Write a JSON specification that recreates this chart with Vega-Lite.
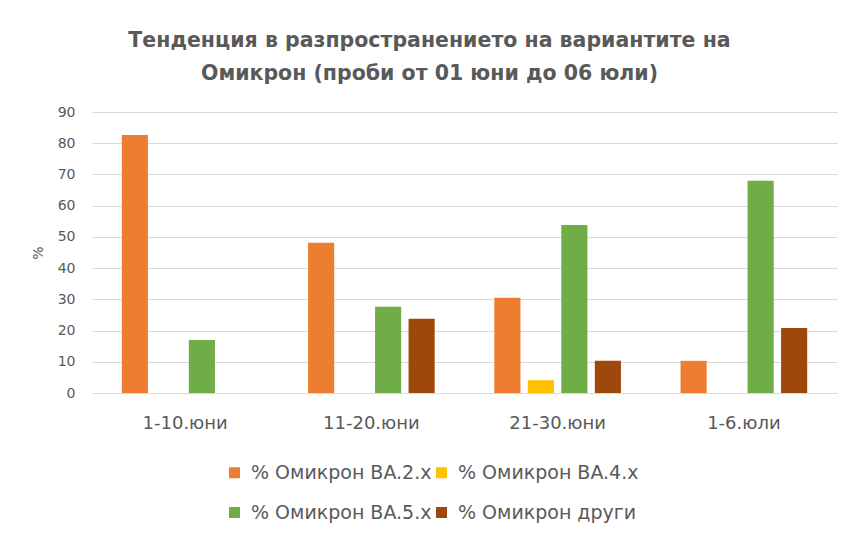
{
  "$schema": "https://vega.github.io/schema/vega-lite/v6.json",
  "autosize": {"type": "none"},
  "width": 745,
  "height": 281,
  "padding": {"left": 92, "top": 112, "right": 26, "bottom": 151},
  "background": "white",
  "title": {
    "text": ["Тенденция в разпространението на вариантите на", "Омикрон (проби от 01 юни до 06 юли)"],
    "font": "DejaVu Sans",
    "fontSize": 20.5,
    "fontWeight": "bold",
    "color": "#595959",
    "lineHeight": 33,
    "anchor": "middle",
    "dx": -35,
    "offset": 21
  },
  "data": {
    "values": [
      {"period": "1-10.юни", "variant": "% Омикрон BA.2.x", "value": 82.6},
      {"period": "1-10.юни", "variant": "% Омикрон BA.5.x", "value": 17.0},
      {"period": "11-20.юни", "variant": "% Омикрон BA.2.x", "value": 48.1},
      {"period": "11-20.юни", "variant": "% Омикрон BA.5.x", "value": 27.6},
      {"period": "11-20.юни", "variant": "% Омикрон други", "value": 23.8},
      {"period": "21-30.юни", "variant": "% Омикрон BA.2.x", "value": 30.5},
      {"period": "21-30.юни", "variant": "% Омикрон BA.4.x", "value": 4.1},
      {"period": "21-30.юни", "variant": "% Омикрон BA.5.x", "value": 53.8},
      {"period": "21-30.юни", "variant": "% Омикрон други", "value": 10.3},
      {"period": "1-6.юли", "variant": "% Омикрон BA.2.x", "value": 10.3},
      {"period": "1-6.юли", "variant": "% Омикрон BA.5.x", "value": 68.0},
      {"period": "1-6.юли", "variant": "% Омикрон други", "value": 20.8}
    ]
  },
  "mark": {"type": "bar"},
  "encoding": {
    "x": {
      "field": "period",
      "type": "nominal",
      "sort": ["1-10.юни", "11-20.юни", "21-30.юни", "1-6.юли"],
      "scale": {"paddingInner": 0, "paddingOuter": 0},
      "axis": {
        "title": null,
        "labelAngle": 0,
        "labelFont": "DejaVu Sans",
        "labelFontSize": 18,
        "labelColor": "#595959",
        "labelPadding": 21,
        "ticks": false,
        "domain": false
      }
    },
    "xOffset": {
      "field": "variant",
      "type": "nominal",
      "sort": ["% Омикрон BA.2.x", "% Омикрон BA.4.x", "% Омикрон BA.5.x", "% Омикрон други"],
      "scale": {"paddingInner": 0.22, "paddingOuter": 0.89}
    },
    "y": {
      "field": "value",
      "type": "quantitative",
      "scale": {"domain": [0, 90]},
      "axis": {
        "title": "%",
        "titleFont": "DejaVu Sans",
        "titleFontSize": 14,
        "titleFontWeight": "normal",
        "titleColor": "#595959",
        "titlePadding": 12,
        "values": [0, 10, 20, 30, 40, 50, 60, 70, 80, 90],
        "labelFont": "DejaVu Sans",
        "labelFontSize": 14,
        "labelColor": "#595959",
        "labelPadding": 17,
        "ticks": false,
        "domain": false,
        "gridColor": "#d9d9d9",
        "gridWidth": 1
      }
    },
    "color": {
      "field": "variant",
      "type": "nominal",
      "sort": ["% Омикрон BA.2.x", "% Омикрон BA.4.x", "% Омикрон BA.5.x", "% Омикрон други"],
      "scale": {
        "domain": ["% Омикрон BA.2.x", "% Омикрон BA.4.x", "% Омикрон BA.5.x", "% Омикрон други"],
        "range": ["#ED7D31", "#FFC000", "#70AD47", "#9E480E"]
      },
      "legend": {
        "title": null,
        "orient": "none",
        "legendX": 133,
        "legendY": 351,
        "columns": 2,
        "columnPadding": -14,
        "rowPadding": 20,
        "labelLimit": 0,
        "values": ["% Омикрон BA.2.x", "% Омикрон BA.5.x", "% Омикрон BA.4.x", "% Омикрон други"],
        "symbolType": "square",
        "symbolSize": 121,
        "symbolStrokeWidth": 0,
        "labelFont": "DejaVu Sans",
        "labelFontSize": 19,
        "labelColor": "#595959",
        "labelOffset": 7
      }
    }
  },
  "config": {
    "view": {"stroke": null}
  }
}
